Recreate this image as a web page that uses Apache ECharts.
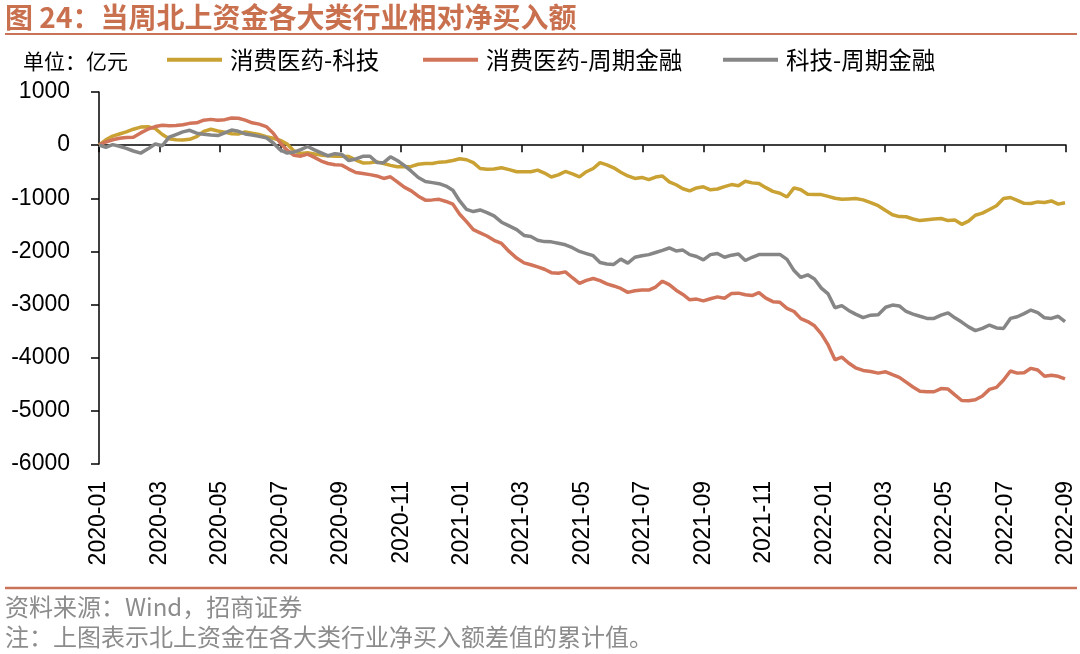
<!DOCTYPE html>
<html>
<head>
<meta charset="utf-8">
<script src="https://cdn.jsdelivr.net/npm/echarts@6/dist/echarts.min.js"></script>
<style>
html,body{margin:0;padding:0;background:#fff;}
#chart{width:1080px;height:654px;}
</style>
</head>
<body>
<div id="chart"></div>
<script>
// Weekly cumulative values (亿元), first week 2020-01-01, one point per week
const startDate = [2020, 0, 1];
const seriesNames = ['消费医药-科技', '消费医药-周期金融', '科技-周期金融'];
const consumerVsTech = [0,100,170,210,250,300,340,345,310,200, 120,100,95,110,160,260,300,265,245,215, 210,250,225,200,160,130,90,20,-110,-155, -145,-165,-188,-200,-207,-207,-215,-280,-335,-330, -314,-345,-380,-408,-408,-400,-360,-345,-345,-320, -314,-290,-255,-275,-330,-440,-455,-450,-425,-460, -500,-502,-500,-470,-525,-600,-560,-495,-540,-596, -500,-440,-330,-370,-426,-510,-580,-627,-608,-650, -600,-580,-690,-745,-820,-862,-805,-784,-840,-825, -780,-742,-765,-680,-710,-721,-800,-870,-905,-975, -805,-840,-925,-928,-930,-965,-1000,-1020,-1012,-1005, -1030,-1080,-1140,-1230,-1310,-1345,-1348,-1390,-1420,-1405, -1390,-1380,-1420,-1410,-1490,-1430,-1320,-1280,-1210,-1140, -1005,-985,-1040,-1095,-1097,-1068,-1078,-1050,-1110,-1085];
const consumerVsCyclical = [0,60,100,130,145,150,230,300,350,375, 365,370,385,410,420,470,485,470,480,510, 505,470,420,395,350,225,40,-95,-190,-207, -170,-230,-300,-345,-370,-376,-450,-515,-535,-555, -580,-627,-596,-690,-790,-860,-960,-1035,-1030,-1020, -1060,-1110,-1300,-1440,-1590,-1650,-1710,-1790,-1850,-2000, -2125,-2215,-2250,-2290,-2335,-2400,-2410,-2385,-2495,-2600, -2545,-2510,-2550,-2610,-2650,-2696,-2770,-2740,-2725,-2727, -2670,-2560,-2625,-2730,-2810,-2910,-2897,-2930,-2890,-2855, -2880,-2790,-2785,-2815,-2830,-2775,-2880,-2945,-2958,-3070, -3130,-3265,-3320,-3400,-3550,-3760,-4040,-3990,-4100,-4190, -4240,-4260,-4290,-4265,-4320,-4370,-4460,-4550,-4630,-4640, -4640,-4580,-4590,-4700,-4805,-4810,-4790,-4720,-4596,-4558, -4420,-4250,-4290,-4282,-4200,-4232,-4350,-4330,-4350,-4400];
const techVsCyclical = [0,-40,10,-20,-60,-110,-150,-70,20,-10, 150,200,250,280,225,205,190,180,230,285, 260,210,190,165,140,40,-90,-150,-130,-85, -25,-90,-145,-200,-160,-175,-290,-260,-210,-210, -325,-330,-220,-290,-380,-490,-610,-685,-705,-725, -770,-850,-1050,-1210,-1250,-1220,-1270,-1330,-1450,-1520, -1590,-1700,-1720,-1790,-1815,-1820,-1845,-1875,-1930,-2000, -2040,-2080,-2210,-2235,-2245,-2145,-2220,-2110,-2082,-2060, -2020,-1980,-1935,-1990,-1975,-2060,-2095,-2160,-2060,-2040, -2110,-2070,-2050,-2170,-2110,-2060,-2056,-2056,-2056,-2150, -2360,-2490,-2440,-2520,-2690,-2800,-3060,-3020,-3110,-3180, -3245,-3200,-3190,-3050,-3010,-3025,-3130,-3180,-3220,-3260, -3260,-3200,-3155,-3250,-3330,-3420,-3490,-3448,-3385,-3440, -3448,-3260,-3229,-3170,-3103,-3150,-3250,-3260,-3220,-3320];
const yTicks = {min: -6000, max: 1000, interval: 1000};
const xMonths = {min: 0, max: 32, interval: 2}; // months since 2020-01

// convert week index -> fractional month position since 2020-01
function weekToMonth(i) {
  const t = Date.UTC(startDate[0], startDate[1], startDate[2]) + i * 7 * 86400000;
  const d = new Date(t);
  const y = d.getUTCFullYear(), m = d.getUTCMonth(), day = d.getUTCDate();
  const dim = new Date(Date.UTC(y, m + 1, 0)).getUTCDate();
  return (y - 2020) * 12 + m + (day - 1) / dim;
}
function toPairs(arr) { return arr.map((v, i) => [weekToMonth(i), v]); }
function monthLabel(v) {
  const y = 2020 + Math.floor(v / 12);
  const m = Math.round(v % 12) + 1;
  return y + '-' + (m < 10 ? '0' + m : m);
}

const cjk = '"Noto Sans CJK SC", "Liberation Sans", sans-serif';
const latin = '"Liberation Sans", Arial, sans-serif';
const colors = ['#C9A233', '#D1745A', '#868686'];

const chart = echarts.init(document.getElementById('chart'), null, {renderer: 'canvas'});
const legendBase = {icon: 'rect', itemWidth: 55, itemHeight: 4, top: 48, padding: 0, itemGap: 0,
  textStyle: {fontSize: 23.5, color: '#000', fontFamily: cjk, padding: [0, 0, 0, 3]}, selectedMode: false};
chart.setOption({
  animation: false,
  backgroundColor: '#fff',
  grid: {left: 99, right: 14, top: 92, bottom: 190, containLabel: false},
  legend: [
    Object.assign({}, legendBase, {left: 167, data: [seriesNames[0]]}),
    Object.assign({}, legendBase, {left: 423, data: [seriesNames[1]]}),
    Object.assign({}, legendBase, {left: 723, data: [seriesNames[2]]})
  ],
  xAxis: [
    {type: 'value', min: xMonths.min, max: xMonths.max, interval: xMonths.interval,
     axisLine: {show: true, onZero: true, lineStyle: {color: '#000', width: 1.5}},
     axisTick: {show: true, inside: false, length: 7, lineStyle: {color: '#000', width: 1.5}},
     axisLabel: {show: false}, splitLine: {show: false}},
    {type: 'value', min: xMonths.min, max: xMonths.max, interval: xMonths.interval, position: 'bottom',
     axisLine: {show: false, onZero: false}, axisTick: {show: false}, splitLine: {show: false},
     axisLabel: {show: true, rotate: 90, margin: 17, fontSize: 23, color: '#000', fontFamily: latin,
       formatter: monthLabel, showMinLabel: true, showMaxLabel: true}}
  ],
  yAxis: {type: 'value', min: yTicks.min, max: yTicks.max, interval: yTicks.interval,
    axisLine: {show: true, onZero: false, lineStyle: {color: '#000', width: 1.5}},
    axisTick: {show: true, inside: false, length: 8, lineStyle: {color: '#000', width: 1.5}},
    axisLabel: {fontSize: 23, color: '#000', fontFamily: latin, margin: 29, formatter: v => String(v)},
    splitLine: {show: false}},
  series: [
    {name: seriesNames[0], type: 'line', data: toPairs(consumerVsTech), showSymbol: false, color: colors[0], lineStyle: {width: 3.5, color: colors[0]}},
    {name: seriesNames[1], type: 'line', data: toPairs(consumerVsCyclical), showSymbol: false, color: colors[1], lineStyle: {width: 3.5, color: colors[1]}},
    {name: seriesNames[2], type: 'line', data: toPairs(techVsCyclical), showSymbol: false, color: colors[2], lineStyle: {width: 3.5, color: colors[2]}}
  ],
  graphic: [
    {type: 'text', x: 5, y: 17, style: {text: '图 24：当周北上资金各大类行业相对净买入额', font: 'bold 28px ' + cjk, fill: '#C9704F', verticalAlign: 'middle'}},
    {type: 'line', shape: {x1: 5, y1: 34, x2: 1077, y2: 34}, style: {stroke: '#C9735A', lineWidth: 2}},
    {type: 'text', x: 23, y: 61, style: {text: '单位：亿元', font: '21px ' + cjk, fill: '#000', verticalAlign: 'middle'}},
    {type: 'line', shape: {x1: 5, y1: 588, x2: 1077, y2: 588}, style: {stroke: '#C9735A', lineWidth: 2.5}},
    {type: 'text', x: 5, y: 607, style: {text: '资料来源：Wind，招商证券', font: '24px ' + cjk, fill: '#8C8C8C', verticalAlign: 'middle'}},
    {type: 'text', x: 5, y: 637, style: {text: '注：上图表示北上资金在各大类行业净买入额差值的累计值。', font: '24px ' + cjk, fill: '#8C8C8C', verticalAlign: 'middle'}}
  ]
});
</script>
</body>
</html>
